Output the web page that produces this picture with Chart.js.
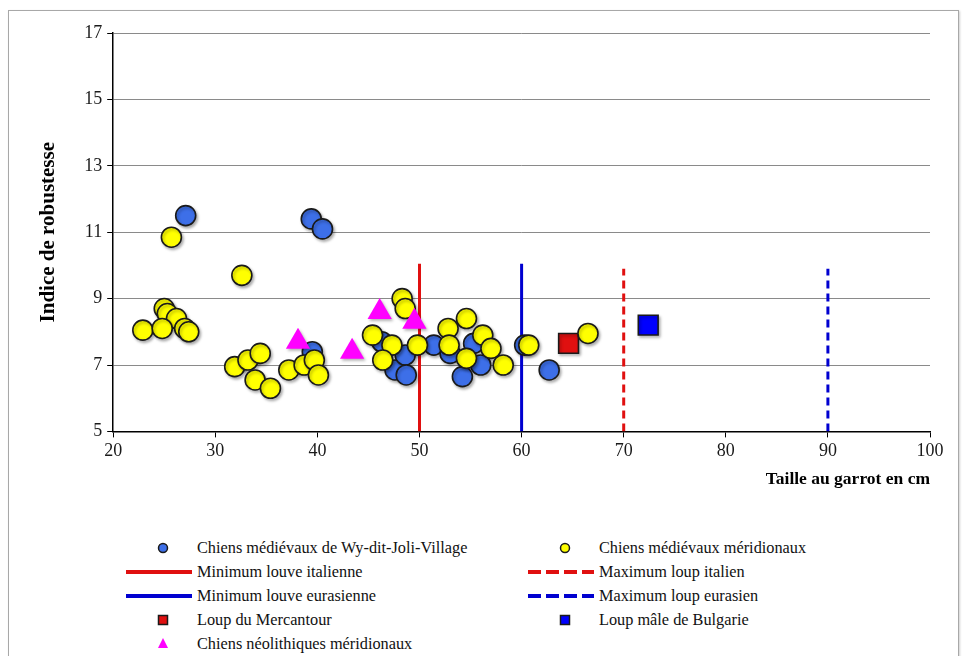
<!DOCTYPE html>
<html>
<head>
<meta charset="utf-8">
<script src="https://cdn.jsdelivr.net/npm/chart.js@4.4.0/dist/chart.umd.min.js"></script>
<style>
  body { margin: 0; background: #fff; font-family: "Liberation Serif", "Times New Roman", serif; }
  #wrap { position: relative; width: 967px; height: 656px; overflow: hidden; }
  #frame { position: absolute; left: 8px; top: 10px; width: 949px; height: 700px; border: 1px solid #a8a8a8; box-shadow: 1px 1px 2px #d0d0d0; }
  #chart { position: absolute; left: 0; top: 0; }
  #legend { position: absolute; left: 126px; top: 536px; display: grid; grid-template-columns: 402px 340px; }
  .item { display: flex; align-items: center; height: 24px; font-size: 16.3px; color: #111; white-space: nowrap; }
  .item svg { margin-right: 5px; flex: none; }
</style>
</head>
<body>
<div id="wrap">
  <div id="frame"></div>
  <canvas id="chart" width="967" height="500"></canvas>
  <div id="legend"></div>
</div>
<script>
// Chiens médiévaux de Wy-dit-Joli-Village
const wyX = [27.1, 39.4, 40.5, 39.5, 46.3, 47.6, 48.6, 48.7, 51.4, 53.0, 55.3, 56.0, 54.2, 60.3, 62.7];
const wyY = [11.5, 11.4, 11.1, 7.4, 7.7, 6.85, 7.3, 6.7, 7.6, 7.35, 7.65, 7.0, 6.65, 7.6, 6.85];

// Chiens médiévaux méridionaux
const meridX = [25.7, 25.0, 25.3, 26.2, 22.9, 24.8, 27.0, 27.4, 32.6, 31.9, 33.2, 34.4, 33.9, 35.4, 37.2, 38.7, 39.7,
                40.1, 48.3, 48.6, 45.4, 47.3, 49.8, 46.4, 54.6, 52.8, 52.9, 56.2, 57.0, 54.6, 58.2, 60.7, 66.5];
const meridY = [10.85, 8.7, 8.55, 8.4, 8.05, 8.1, 8.1, 8.0, 9.7, 6.95, 7.15, 7.35, 6.55, 6.3, 6.85, 7.0, 7.15,
                6.7, 9.0, 8.7, 7.9, 7.6, 7.6, 7.15, 8.4, 8.1, 7.6, 7.9, 7.5, 7.2, 7.0, 7.6, 7.95];

// Chiens néolithiques méridionaux
const neoX = [38.1, 43.4, 46.1, 49.5];
const neoY = [7.7, 7.4, 8.6, 8.3];

// loups isolés
const mercantourX = [64.6], mercantourY = [7.65];
const bulgarieX = [72.4], bulgarieY = [8.2];

// seuils (taille au garrot) et hauteur des traits
const minLouveItalienne = 50, maxLoupItalien = 70;
const minLouveEurasienne = 60, maxLoupEurasien = 90;
const minTop = 10.05, maxTop = 9.9;

const xTicks = [20, 30, 40, 50, 60, 70, 80, 90, 100];
const yTicks = [5, 7, 9, 11, 13, 15, 17];

const serif = '"Liberation Serif", "Times New Roman", serif';

function pts(xs, ys) { return xs.map((x, i) => ({ x: x, y: ys[i] })); }
function vline(x, top) { return [{ x: x, y: yTicks[0] }, { x: x, y: top }]; }

function pointSet(label, xs, ys, style, color, radius, order, border) {
  return {
    label, data: pts(xs, ys), pointStyle: style, backgroundColor: color,
    borderColor: border === undefined ? '#1a1a1a' : border, borderWidth: border === null ? 0 : 1.6,
    pointRadius: radius, pointHoverRadius: radius, order, shadow: true
  };
}
function lineSet(label, x, top, color, dash) {
  return {
    label, data: vline(x, top), showLine: true, borderColor: color, backgroundColor: color,
    borderWidth: 3, borderDash: dash, pointRadius: 0, fill: false, order: 10
  };
}

const datasets = [
  pointSet('Chiens médiévaux de Wy-dit-Joli-Village', wyX, wyY, 'circle', '#3d6fe8', 10, 2),
  pointSet('Chiens médiévaux méridionaux', meridX, meridY, 'circle', '#ffff00', 10, 1),
  lineSet('Minimum louve italienne', minLouveItalienne, minTop, '#e01010', []),
  lineSet('Maximum loup italien', maxLoupItalien, maxTop, '#e01010', [8, 5]),
  lineSet('Minimum louve eurasienne', minLouveEurasienne, minTop, '#0000d0', []),
  lineSet('Maximum loup eurasien', maxLoupEurasien, maxTop, '#0000d0', [8, 5]),
  pointSet('Loup du Mercantour', mercantourX, mercantourY, 'rect', '#e01010', 14, 3),
  pointSet('Loup mâle de Bulgarie', bulgarieX, bulgarieY, 'rect', '#0000ff', 14, 3),
  pointSet('Chiens néolithiques méridionaux', neoX, neoY, 'triangle', '#ff00ff', 14, 0, null)
];

// petite ombre portée sous les marqueurs
const shadowPlugin = {
  id: 'shadow',
  beforeDatasetDraw(chart, args) {
    if (!chart.data.datasets[args.index].shadow) return;
    const c = chart.ctx;
    c.save();
    c.shadowColor = 'rgba(0,0,0,0.3)';
    c.shadowBlur = 3;
    c.shadowOffsetX = 1.5;
    c.shadowOffsetY = 2;
  },
  afterDatasetDraw(chart, args) {
    if (chart.data.datasets[args.index].shadow) chart.ctx.restore();
  }
};

const tickFont = { family: serif, size: 18 };

const chart = new Chart(document.getElementById('chart').getContext('2d'), {
  type: 'scatter',
  data: { datasets },
  plugins: [shadowPlugin],
  options: {
    responsive: false,
    animation: false,
    layout: { padding: { left: 36, right: 37, top: 33, bottom: 10 } },
    plugins: { legend: { display: false }, tooltip: { enabled: false } },
    scales: {
      x: {
        type: 'linear', min: xTicks[0], max: xTicks[xTicks.length - 1],
        afterBuildTicks: axis => { axis.ticks = xTicks.map(v => ({ value: v })); },
        ticks: { font: tickFont, color: '#1a1a1a', padding: 3 },
        grid: { drawOnChartArea: false, tickLength: 6, tickColor: '#000' },
        border: { color: '#000', width: 1.5 },
        title: { display: true, text: 'Taille au garrot en cm', align: 'end', font: { family: serif, size: 17.5, weight: 'bold' }, color: '#000', padding: { top: 4, bottom: 0 } }
      },
      y: {
        type: 'linear', min: yTicks[0], max: yTicks[yTicks.length - 1],
        afterBuildTicks: axis => { axis.ticks = yTicks.map(v => ({ value: v })); },
        ticks: { font: tickFont, color: '#1a1a1a', padding: 5 },
        grid: { color: '#8a8a8a', lineWidth: 1, tickLength: 6, tickColor: '#000' },
        border: { color: '#000', width: 1.5 },
        title: { display: true, text: 'Indice de robustesse', font: { family: serif, size: 21, weight: 'bold' }, color: '#000', padding: { top: 0, bottom: 18 } }
      }
    }
  }
});

// légende en deux colonnes, construite depuis les jeux de données
function symbol(ds) {
  const w = 66, h = 24, cx = 37, cy = 12;
  let s = '';
  if (ds.showLine) {
    const dash = ds.borderDash.length ? ' stroke-dasharray="13 5"' : '';
    s = `<line x1="0" y1="${cy}" x2="${w}" y2="${cy}" stroke="${ds.borderColor}" stroke-width="4"${dash}/>`;
  } else if (ds.pointStyle === 'circle') {
    s = `<circle cx="${cx}" cy="${cy}" r="4.5" fill="${ds.backgroundColor}" stroke="#1a1a1a" stroke-width="1.5"/>`;
  } else if (ds.pointStyle === 'rect') {
    s = `<rect x="${cx - 4.5}" y="${cy - 4.5}" width="9" height="9" fill="${ds.backgroundColor}" stroke="#1a1a1a" stroke-width="1.5"/>`;
  } else {
    s = `<polygon points="${cx},${cy - 6} ${cx + 5},${cy + 4} ${cx - 5},${cy + 4}" fill="${ds.backgroundColor}"/>`;
  }
  return `<svg width="${w}" height="${h}">${s}</svg>`;
}
document.getElementById('legend').innerHTML = chart.data.datasets
  .map(ds => `<div class="item">${symbol(ds)}<span>${ds.label}</span></div>`).join('');
</script>
</body>
</html>
